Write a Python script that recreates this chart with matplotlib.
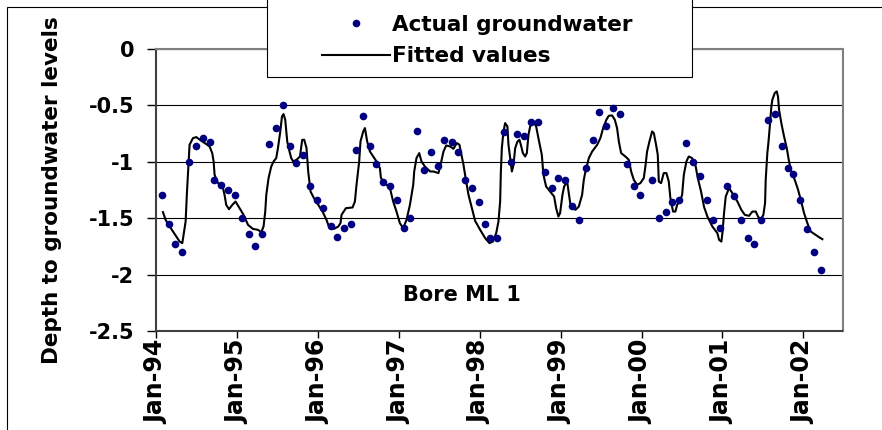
import numpy as np
import matplotlib.pyplot as plt
from matplotlib.patches import Rectangle
from matplotlib.lines import Line2D

plt.rcParams['font.family'] = ['DejaVu Sans']
plt.rcParams['font.weight'] = 'bold'
plt.rcParams['axes.labelweight'] = 'bold'
plt.rcParams['axes.unicode_minus'] = False

# monthly bore readings (decimal year, depth in m)
obs_year = [
    1994.074, 1994.156, 1994.238, 1994.325, 1994.411, 1994.498, 1994.581, 1994.667, 1994.716, 1994.803, 1994.889, 1994.976,
    1995.057, 1995.144, 1995.227, 1995.313, 1995.396, 1995.482, 1995.569, 1995.650, 1995.733, 1995.820, 1995.906, 1995.989,
    1996.070, 1996.157, 1996.243, 1996.326, 1996.413, 1996.466, 1996.552, 1996.639, 1996.721, 1996.804, 1996.886, 1996.977,
    1997.059, 1997.145, 1997.228, 1997.311, 1997.397, 1997.484, 1997.565, 1997.652, 1997.734, 1997.817, 1997.904, 1997.990,
    1998.072, 1998.130, 1998.212, 1998.299, 1998.385, 1998.467, 1998.553, 1998.636, 1998.719, 1998.805, 1998.892, 1998.973,
    1999.060, 1999.143, 1999.225, 1999.312, 1999.398, 1999.480, 1999.566, 1999.649, 1999.736, 1999.818, 1999.905, 1999.986,
    2000.131, 2000.214, 2000.300, 2000.382, 2000.468, 2000.551, 2000.637, 2000.720, 2000.807, 2000.888, 2000.975,
    2001.057, 2001.140, 2001.227, 2001.313, 2001.395, 2001.478, 2001.564, 2001.654, 2001.733, 2001.815, 2001.876, 2001.955,
    2002.042, 2002.128, 2002.215,
]
obs_depth = [
    -1.29, -1.55, -1.73, -1.80, -1.00, -0.86, -0.79, -0.825, -1.16, -1.21, -1.25, -1.29,
    -1.50, -1.64, -1.745, -1.64, -0.84, -0.70, -0.50, -0.86, -1.015, -0.94, -1.215, -1.34,
    -1.41, -1.57, -1.67, -1.585, -1.55, -0.895, -0.59, -0.86, -1.02, -1.18, -1.215, -1.34,
    -1.585, -1.50, -0.73, -1.07, -0.91, -1.04, -0.81, -0.825, -0.915, -1.16, -1.23, -1.36,
    -1.55, -1.675, -1.675, -0.74, -1.005, -0.755, -0.77, -0.645, -0.645, -1.09, -1.23, -1.14,
    -1.16, -1.39, -1.52, -1.055, -0.805, -0.555, -0.68, -0.52, -0.58, -1.02, -1.215, -1.29,
    -1.16, -1.50, -1.445, -1.36, -1.34, -0.83, -1.005, -1.125, -1.34, -1.515, -1.585,
    -1.215, -1.30, -1.515, -1.675, -1.73, -1.52, -0.627, -0.575, -0.86, -1.053, -1.11, -1.337,
    -1.60, -1.80, -1.96,
]

# model fit
fit_year = [
    1994.086, 1994.119, 1994.210, 1994.292, 1994.325, 1994.341, 1994.366, 1994.383, 1994.403, 1994.415, 1994.457, 1994.498,
    1994.560, 1994.621, 1994.662, 1994.695, 1994.712, 1994.724, 1994.766, 1994.828, 1994.847, 1994.868, 1994.902, 1994.943, 1994.983,
    1995.033, 1995.082, 1995.137, 1995.198, 1995.260, 1995.301, 1995.329, 1995.350, 1995.363, 1995.391, 1995.424, 1995.453, 1995.486,
    1995.507, 1995.536, 1995.557, 1995.576, 1995.597, 1995.622, 1995.650, 1995.671, 1995.696, 1995.737, 1995.779, 1995.807, 1995.832,
    1995.860, 1995.881, 1995.910, 1995.952,
    1996.005, 1996.058, 1996.107, 1996.141, 1996.199, 1996.252, 1996.280, 1996.293, 1996.347, 1996.429, 1996.458, 1996.478, 1996.511,
    1996.527, 1996.561, 1996.582, 1996.610, 1996.644, 1996.684, 1996.725, 1996.767, 1996.780, 1996.829, 1996.891, 1996.931, 1996.972,
    1997.014, 1997.055, 1997.096, 1997.138, 1997.179, 1997.191, 1997.219, 1997.253, 1997.281, 1997.323, 1997.389, 1997.429, 1997.491,
    1997.521, 1997.553, 1997.586, 1997.636, 1997.676, 1997.718, 1997.750, 1997.780, 1997.800, 1997.833, 1997.862, 1997.904, 1997.944,
    1998.006, 1998.068, 1998.121, 1998.163, 1998.204, 1998.232, 1998.253, 1998.262, 1998.274, 1998.294, 1998.315, 1998.343, 1998.356,
    1998.377, 1998.398, 1998.418, 1998.439, 1998.467, 1998.492, 1998.509, 1998.534, 1998.562, 1998.583, 1998.603, 1998.624, 1998.665,
    1998.698, 1998.726, 1998.768, 1998.788, 1998.821, 1998.871, 1998.920, 1998.945, 1998.973, 1998.994,
    1999.023, 1999.044, 1999.081, 1999.122, 1999.183, 1999.225, 1999.266, 1999.287, 1999.307, 1999.349, 1999.390, 1999.452, 1999.492,
    1999.526, 1999.566, 1999.596, 1999.637, 1999.670, 1999.698, 1999.720, 1999.748, 1999.801, 1999.843, 1999.872, 1999.905, 1999.946,
    1999.986,
    2000.028, 2000.048, 2000.069, 2000.098, 2000.131, 2000.152, 2000.180, 2000.201, 2000.214, 2000.242, 2000.275, 2000.308, 2000.337,
    2000.357, 2000.390, 2000.419, 2000.440, 2000.473, 2000.502, 2000.523, 2000.555, 2000.584, 2000.625, 2000.666, 2000.696, 2000.736,
    2000.773, 2000.814, 2000.876, 2000.938, 2000.959, 2000.987,
    2001.000, 2001.020, 2001.041, 2001.082, 2001.123, 2001.185, 2001.234, 2001.276, 2001.329, 2001.370, 2001.412, 2001.440, 2001.474,
    2001.506, 2001.527, 2001.535, 2001.555, 2001.568, 2001.589, 2001.605, 2001.617, 2001.647, 2001.671, 2001.687, 2001.700, 2001.728,
    2001.762, 2001.795, 2001.823, 2001.852, 2001.894, 2001.935, 2001.968,
    2002.009, 2002.050, 2002.091, 2002.153, 2002.194, 2002.235,
]
fit_depth = [
    -1.446, -1.515, -1.618, -1.707, -1.721, -1.648, -1.530, -1.264, -0.997, -0.849, -0.790, -0.781,
    -0.814, -0.843, -0.864, -0.923, -0.997, -1.115, -1.189, -1.233, -1.293, -1.382, -1.420, -1.382, -1.352,
    -1.411, -1.470, -1.559, -1.595, -1.603, -1.624, -1.574, -1.441, -1.293, -1.145, -1.042, -0.997, -0.967,
    -0.878, -0.731, -0.598, -0.577, -0.627, -0.820, -0.909, -0.967, -0.997, -0.982, -0.953, -0.805, -0.805,
    -0.878, -1.086, -1.264, -1.322,
    -1.382, -1.441, -1.515, -1.583, -1.595, -1.574, -1.544, -1.470, -1.411, -1.405, -1.352, -1.204, -0.997,
    -0.820, -0.731, -0.701, -0.820, -0.909, -0.953, -0.997, -1.056, -1.145, -1.189, -1.233, -1.352, -1.441,
    -1.544, -1.588, -1.515, -1.382, -1.204, -1.086, -0.967, -0.923, -0.997, -1.042, -1.086, -1.086, -1.100,
    -1.012, -0.909, -0.855, -0.864, -0.885, -0.834, -0.849, -0.953, -1.027, -1.175, -1.293, -1.411, -1.524,
    -1.603, -1.677, -1.721, -1.707, -1.633, -1.530, -1.352, -1.086, -0.878, -0.731, -0.657, -0.687, -0.849,
    -0.967, -1.086, -1.027, -0.878, -0.820, -0.805, -0.849, -0.923, -0.953, -0.923, -0.760, -0.687, -0.642,
    -0.687, -0.790, -0.938, -1.115, -1.219, -1.264, -1.308, -1.411, -1.485, -1.455,
    -1.293, -1.219, -1.175, -1.382, -1.426, -1.397, -1.293, -1.160, -1.086, -0.967, -0.909, -0.849, -0.790,
    -0.701, -0.627, -0.592, -0.589, -0.627, -0.701, -0.820, -0.923, -0.953, -0.982, -1.086, -1.160, -1.204,
    -1.189,
    -1.145, -1.042, -0.909, -0.820, -0.731, -0.745, -0.849, -0.938, -1.175, -1.189, -1.100, -1.100, -1.175,
    -1.322, -1.441, -1.441, -1.382, -1.352, -1.293, -1.115, -0.997, -0.953, -0.967, -1.027, -1.145, -1.264,
    -1.400, -1.485, -1.574, -1.633, -1.692, -1.707,
    -1.633, -1.455, -1.308, -1.233, -1.278, -1.352, -1.426, -1.470, -1.479, -1.441, -1.441, -1.485, -1.515,
    -1.470, -1.366, -1.160, -0.923, -0.834, -0.657, -0.509, -0.450, -0.390, -0.376, -0.421, -0.539, -0.657,
    -0.776, -0.878, -0.997, -1.086, -1.160, -1.248, -1.337,
    -1.455, -1.544, -1.618, -1.648, -1.668, -1.686,
]

tick_years = list(range(1994, 2003))
tick_labels = ["Jan-94", "Jan-95", "Jan-96", "Jan-97", "Jan-98", "Jan-99", "Jan-00", "Jan-01", "Jan-02"]
depth_ticks = [0, -0.5, -1, -1.5, -2, -2.5]
depth_labels = ["0", "-0.5", "-1", "-1.5", "-2", "-2.5"]

W, H = 882, 430
fig = plt.figure(figsize=(W / 100, H / 100), dpi=100)
ax = fig.add_axes([156 / W, 1 - 331 / H, (842.5 - 156) / W, (331 - 49) / H])

fit_line, = ax.plot(fit_year, fit_depth, color='black', lw=1.5, zorder=3)
obs_pts, = ax.plot(obs_year, obs_depth, 'o', color='#000080', ms=5.5, mec='none', zorder=4)

ax.set_xlim(1994, 2002.484)
ax.set_ylim(-2.5, 0)
ax.set_xticks(tick_years)
ax.set_xticklabels(tick_labels, rotation=90, fontsize=17)
ax.set_yticks(depth_ticks)
ax.set_yticklabels(depth_labels, fontsize=15)
ax.tick_params(axis='x', direction='out', length=5, width=1, pad=1)
ax.tick_params(axis='y', direction='out', length=6.5, width=1, pad=9)

ax.set_axisbelow(True)
ax.yaxis.grid(True, color='black', lw=0.8)
for side in ['left', 'bottom']:
    ax.spines[side].set_color('#404040')
    ax.spines[side].set_linewidth(1.5)
for side in ['top', 'right']:
    ax.spines[side].set_color('#808080')
    ax.spines[side].set_linewidth(1.5)

ax.set_ylabel("Depth to groundwater levels", fontsize=15.5, fontweight='bold')
ax.yaxis.set_label_coords(-0.1374, 0.5)

ax.text(1997.78, -2.18, "Bore ML 1", ha='center', va='center', fontsize=15)

# outer frame (only top and left visible)
fig.add_artist(Rectangle((7 / W, -0.1), 1.5, 1 - 7 / H + 0.1, transform=fig.transFigure,
                         fill=False, ec='black', lw=0.8, zorder=1))
# legend box
fig.add_artist(Rectangle((267 / W, 1 - 77 / H), (692 - 267) / W, 0.3, transform=fig.transFigure,
                         fc='white', ec='black', lw=0.8, zorder=1))
fig.legend([obs_pts, fit_line], ["Actual groundwater", "Fitted values"],
           loc='upper left', bbox_to_anchor=(322 / W, 1 - 15 / H), frameon=False,
           borderpad=0, borderaxespad=0, handlelength=3.16, handletextpad=0.1,
           labelspacing=0.52, numpoints=1, fontsize=15.5)

fig.savefig("out.png", dpi=100)
